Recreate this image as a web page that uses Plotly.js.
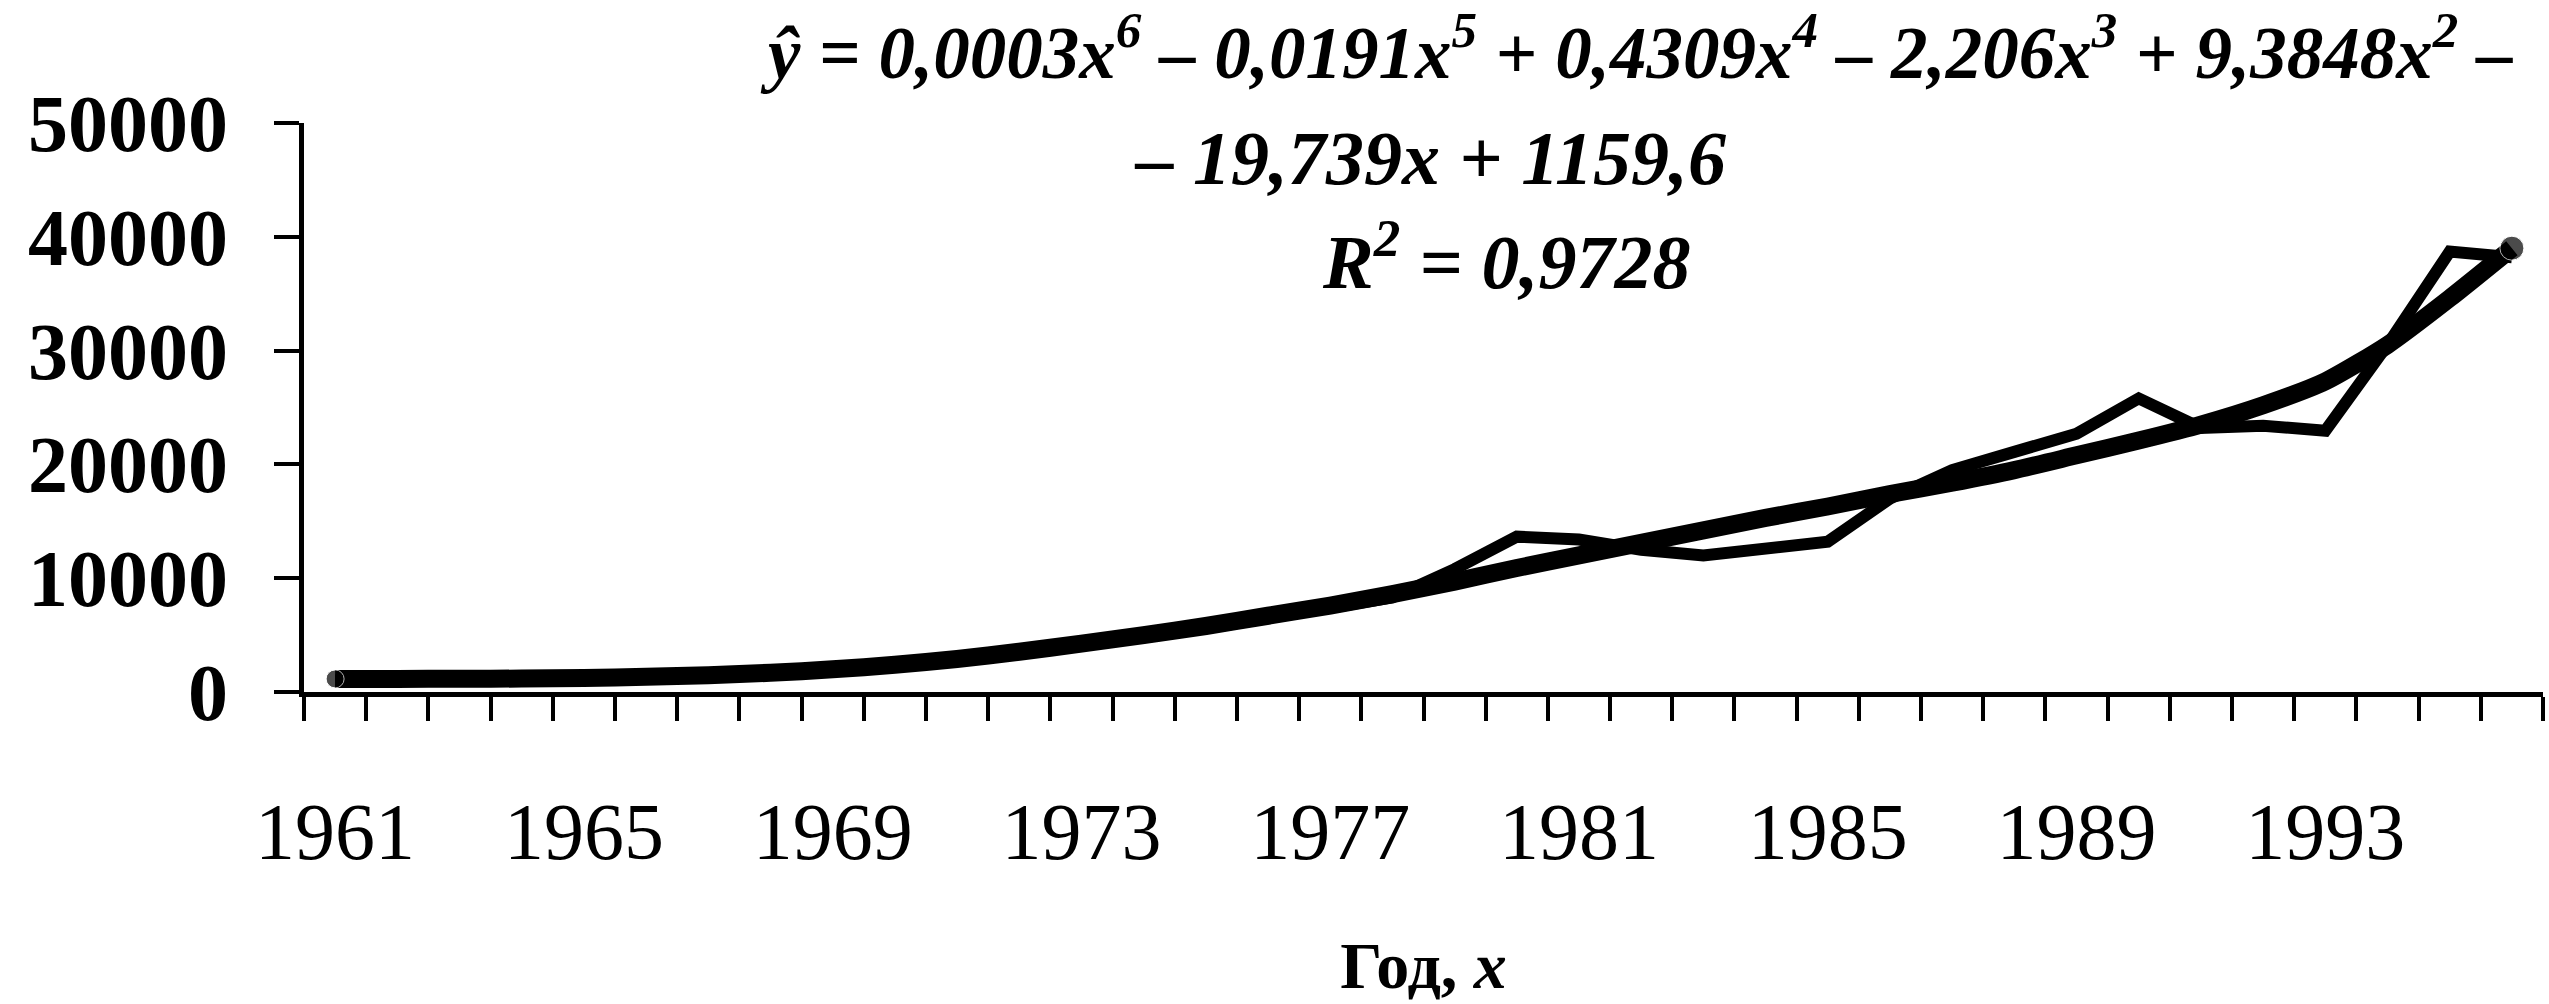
<!DOCTYPE html>
<html>
<head>
<meta charset="utf-8">
<script src="https://cdn.plot.ly/plotly-3.0.1.min.js"></script>
<style>
  html, body { margin: 0; padding: 0; background: #ffffff; }
  #chart { width: 2549px; height: 1004px; }
</style>
</head>
<body>
<div id="chart"></div>
<script>
// ---- data ----
const years = [1961,1962,1963,1964,1965,1966,1967,1968,1969,1970,1971,1972,
               1973,1974,1975,1976,1977,1978,1979,1980,1981,1982,1983,1984,
               1985,1986,1987,1988,1989,1990,1991,1992,1993,1994,1995,1996];
const actualValues = [1000,1050,1100,1100,1150,1250,1400,1650,1900,2300,2800,3400,
                      4100,4800,5600,6500,7400,8300,10800,13650,13400,12500,12000,12700,
                      13200,17000,19500,21100,22700,25800,23200,23400,22950,30500,38700,38200];
const trendValues = [1150,1150,1160,1180,1230,1330,1470,1690,1990,2390,2900,3540,
                     4250,5000,5800,6700,7600,8600,9700,10900,12000,13100,14200,15300,
                     16300,17400,18400,19500,20800,22100,23500,25200,27300,30500,34600,39000];
const yTickVals = [0, 10000, 20000, 30000, 40000, 50000];
const yTickText = ['0', '10000', '20000', '30000', '40000', '50000'];
const xLabelYears = [1961, 1965, 1969, 1973, 1977, 1981, 1985, 1989, 1993];
const xLabelText = ['1961', '1965', '1969', '1973', '1977', '1981', '1985', '1989', '1993'];
const xTitleText = 'Год, <i>x</i>';
const equationLines = [
  'ŷ = 0,0003x<sup>6</sup> – 0,0191x<sup>5</sup> + 0,4309x<sup>4</sup> – 2,206x<sup>3</sup> + 9,3848x<sup>2</sup> –',
  '– 19,739x + 1159,6',
  'R<sup>2</sup> = 0,9728'
];

// category boundaries (tick marks sit between the years)
const boundaries = years.map(function (y) { return y - 0.5; })
                        .concat([years[years.length - 1] + 0.5]);

const serif = 'Liberation Serif, Times New Roman, serif';

const traces = [
  {
    x: years, y: actualValues, type: 'scatter', mode: 'lines',
    line: { color: '#000000', width: 12 }, hoverinfo: 'skip', showlegend: false
  },
  {
    x: years, y: trendValues, type: 'scatter', mode: 'lines',
    line: { color: '#000000', width: 18, shape: 'spline', smoothing: 0.6 },
    hoverinfo: 'skip', showlegend: false
  },
  {
    x: [years[0], years[years.length - 1]],
    y: [trendValues[0], trendValues[trendValues.length - 1]],
    type: 'scatter', mode: 'markers',
    marker: { color: '#000000', size: [18, 24] }, hoverinfo: 'skip', showlegend: false
  }
];

// positions and sizes of the three equation lines (paper coordinates)
const eqX = [0.595, 0.503, 0.537];
const eqY = [1.132, 0.939, 0.766];
const eqSize = [73, 76, 76];

const layout = {
  width: 2549, height: 1004,
  margin: { l: 304, r: 6, t: 123, b: 312, pad: 0 },
  paper_bgcolor: '#ffffff', plot_bgcolor: '#ffffff',
  showlegend: false,
  xaxis: {
    range: [boundaries[0], boundaries[boundaries.length - 1]],
    tickmode: 'array', tickvals: xLabelYears, ticktext: xLabelText,
    ticks: '', showline: true, linewidth: 5, linecolor: '#000000',
    showgrid: false, zeroline: false,
    tickfont: { family: serif, size: 80, color: '#000000' },
    ticklabelstandoff: 66,
    minor: { tickmode: 'array', tickvals: boundaries, ticks: 'outside',
             ticklen: 24, tickwidth: 4, tickcolor: '#000000', showgrid: false },
    title: { text: xTitleText, standoff: 68,
             font: { family: serif, size: 66, color: '#000000', weight: 'bold' } }
  },
  yaxis: {
    range: [0, 50000],
    tickmode: 'array', tickvals: yTickVals, ticktext: yTickText,
    ticks: 'outside', ticklen: 25, tickwidth: 4, tickcolor: '#000000',
    showline: true, linewidth: 5, linecolor: '#000000',
    showgrid: false, zeroline: false,
    tickfont: { family: serif, size: 80, color: '#000000', weight: 'bold' },
    ticklabelstandoff: 30
  },
  annotations: equationLines.map(function (t, i) {
    return {
      xref: 'paper', yref: 'paper', x: eqX[i], y: eqY[i],
      xanchor: 'center', yanchor: 'middle',
      showarrow: false, align: 'center', text: t,
      font: { family: serif, size: eqSize[i], color: '#000000', weight: 'bold', style: 'italic' }
    };
  })
};

Plotly.newPlot('chart', traces, layout, { staticPlot: true, displayModeBar: false });
</script>
</body>
</html>
